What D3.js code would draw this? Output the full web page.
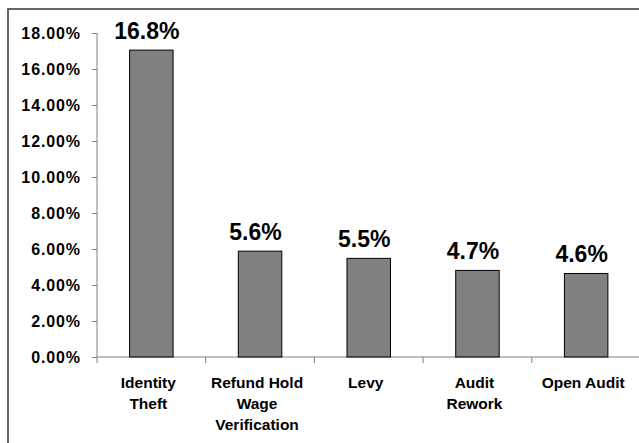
<!DOCTYPE html>
<html>
<head>
<meta charset="utf-8">
<script src="https://cdn.jsdelivr.net/npm/d3@7"></script>
<style>
  html, body { margin: 0; padding: 0; background: #ffffff; overflow: hidden; }
  svg { display: block; }
  text { font-family: "Liberation Sans", Arial, sans-serif; font-weight: bold; fill: #000; }
</style>
</head>
<body>
<svg id="chart" width="639" height="443"></svg>
<script>
// ---- data ----
const categories = ["Identity Theft", "Refund Hold Wage Verification", "Levy", "Audit Rework", "Open Audit"];
const categoryLines = [["Identity", "Theft"], ["Refund Hold", "Wage", "Verification"], ["Levy"], ["Audit", "Rework"], ["Open Audit"]];
const values = [17.05, 5.88, 5.48, 4.81, 4.64];
const valueLabels = ["16.8%", "5.6%", "5.5%", "4.7%", "4.6%"];
const yTicks = [0, 2, 4, 6, 8, 10, 12, 14, 16, 18];

// ---- layout ----
const svg = d3.select("#chart");
const plot = { left: 97, right: 640.5, top: 33, bottom: 357 };

// chart-area frame (right/bottom edges fall outside the picture)
svg.append("rect")
  .attr("x", 8).attr("y", 9)
  .attr("width", 700).attr("height", 500)
  .attr("fill", "none")
  .attr("stroke", "#404040")
  .attr("stroke-width", 1.6);

const x = d3.scaleBand().domain(categories).range([plot.left, plot.right]).padding(0);
const y = d3.scaleLinear().domain([0, 18]).range([plot.bottom, plot.top]);

// y axis
const yAxis = d3.axisLeft(y)
  .tickValues(yTicks)
  .tickFormat(d => d3.format(".2f")(d) + "%")
  .tickSize(5)
  .tickPadding(11);
const gy = svg.append("g").attr("transform", `translate(${plot.left},0)`).call(yAxis);
gy.select(".domain").attr("stroke", "#808080").attr("d", `M0,${plot.top}V${plot.bottom}`);
gy.selectAll(".tick line").attr("stroke", "#808080");
gy.selectAll(".tick text")
  .style("font-size", "16px")
  .style("letter-spacing", "0.9px")
  .attr("dy", "0.36em")
  .attr("fill", "#000");

// x axis (ticks at category boundaries)
svg.append("line")
  .attr("x1", plot.left).attr("x2", plot.right)
  .attr("y1", plot.bottom).attr("y2", plot.bottom)
  .attr("stroke", "#808080");
svg.append("g").selectAll("line")
  .data(categories)
  .join("line")
  .attr("x1", d => x(d)).attr("x2", d => x(d))
  .attr("y1", plot.bottom).attr("y2", plot.bottom + 6)
  .attr("stroke", "#808080");

// bars
const barW = x.bandwidth() * 0.4;
svg.append("g").selectAll("rect")
  .data(values)
  .join("rect")
  .attr("x", (d, i) => x(categories[i]) + x.bandwidth() / 2 - barW / 2)
  .attr("y", d => y(d))
  .attr("width", barW)
  .attr("height", d => y(0) - y(d))
  .attr("fill", "#808080")
  .attr("stroke", "#000")
  .attr("stroke-width", 1);

// value labels
svg.append("g").selectAll("text")
  .data(values)
  .join("text")
  .attr("x", (d, i) => x(categories[i]) + x.bandwidth() / 2 - 4.5)
  .attr("y", d => y(d) - 11.5)
  .attr("text-anchor", "middle")
  .style("font-size", "23px")
  .text((d, i) => valueLabels[i]);

// category labels
const cat = svg.append("g").selectAll("text")
  .data(categories)
  .join("text")
  .attr("x", d => x(d) + x.bandwidth() / 2 - 3)
  .attr("y", plot.bottom + 31)
  .attr("text-anchor", "middle")
  .style("font-size", "15.5px");
cat.each(function(d, i) {
  d3.select(this).selectAll("tspan")
    .data(categoryLines[i])
    .join("tspan")
    .attr("x", x(d) + x.bandwidth() / 2 - 3)
    .attr("dy", (t, j) => j === 0 ? 0 : 21)
    .text(t => t);
});
</script>
</body>
</html>
